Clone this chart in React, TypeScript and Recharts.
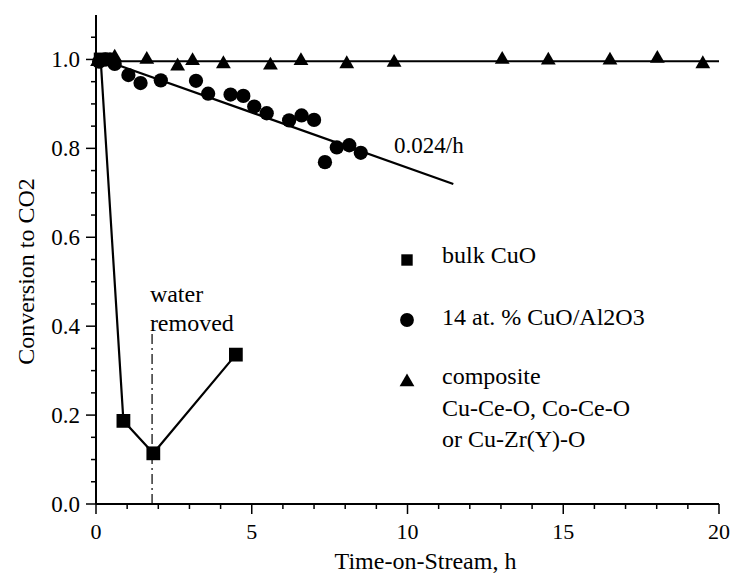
import { ComposedChart, Scatter, XAxis, YAxis, ReferenceLine, ReferenceDot, Label, Legend, Symbols } from 'recharts';

const FONT = "'Liberation Serif', 'DejaVu Serif', serif";
const INK = '#000';
const TXT = { fontFamily: FONT, fontSize: 23, fill: INK };

// bulk CuO (squares, connected)
const bulkTime = [0.15, 0.88, 1.84, 4.49];
const bulkConv = [1.0, 0.187, 0.114, 0.336];

// 14 at. % CuO/Al2O3 (circles)
const aluTime = [0.1, 0.3, 0.45, 0.6, 1.04, 1.43, 2.08, 3.21, 3.6, 4.32, 4.73, 5.08, 5.48, 6.2, 6.6, 7.0, 7.35, 7.73, 8.13, 8.5];
const aluConv = [0.995, 1.0, 1.0, 0.99, 0.965, 0.947, 0.953, 0.952, 0.923, 0.921, 0.918, 0.894, 0.879, 0.863, 0.874, 0.864, 0.769, 0.802, 0.807, 0.79];

// composite oxides (triangles)
const compTime = [0.05, 0.6, 1.63, 2.62, 3.1, 4.09, 5.6, 6.58, 8.05, 9.57, 13.04, 14.52, 16.5, 18.02, 19.48];
const compConv = [0.995, 1.005, 1.0, 0.985, 0.997, 0.99, 0.987, 0.997, 0.99, 0.993, 1.0, 0.998, 0.998, 1.002, 0.99];

// fitted lines
const aluFitTime = [0.4, 11.47];
const aluFitConv = [0.995, 0.72];
const compFitTime = [0, 20];
const compFitConv = [0.996, 0.996];

const waterRemovedTime = 1.8;

const xMajorTicks = [0, 5, 10, 15, 20];
const xMinorTicks = [0, 1, 2, 3, 4, 5, 6, 7, 8, 9, 10, 11, 12, 13, 14, 15, 16, 17, 18, 19, 20];
const yMajorTicks = [0, 0.2, 0.4, 0.6, 0.8, 1.0];
const yMinorTicks = [0, 0.05, 0.1, 0.15, 0.2, 0.25, 0.3, 0.35, 0.4, 0.45, 0.5, 0.55, 0.6, 0.65, 0.7, 0.75, 0.8, 0.85, 0.9, 0.95, 1.0, 1.05];

const legendLabels = [['bulk CuO'], ['14 at. % CuO/Al2O3'], ['composite', 'Cu-Ce-O, Co-Ce-O', 'or Cu-Zr(Y)-O']];

const toPoints = (ts: number[], vs: number[]) => ts.map((t, i) => ({ t, v: vs[i] }));

const bulkData = toPoints(bulkTime, bulkConv);
const aluData = toPoints(aluTime, aluConv);
const compData = toPoints(compTime, compConv);
const aluFit = toPoints(aluFitTime, aluFitConv);
const compFit = toPoints(compFitTime, compFitConv);

const isMajor = (list: number[], v: number) => list.some((m) => Math.abs(m - v) < 1e-6);

const XTick = (props: any) => {
    const { x, y, payload } = props;
    const major = isMajor(xMajorTicks, payload.value);
    return (
        <g>
            <line x1={x} y1={y} x2={x} y2={y + (major ? 10 : 5)} stroke={INK} strokeWidth={1.5} />
            {major && (
                <text x={x} y={y + 35} textAnchor="middle" style={{ ...TXT, fontSize: 22 }}>
                    {payload.value}
                </text>
            )}
        </g>
    );
};

const YTick = (props: any) => {
    const { x, y, payload } = props;
    const major = isMajor(yMajorTicks, payload.value);
    return (
        <g>
            <line x1={x} y1={y} x2={x - (major ? 10 : 5)} y2={y} stroke={INK} strokeWidth={1.5} />
            {major && (
                <text x={x - 16} y={y + 8} textAnchor="end" style={TXT}>
                    {payload.value.toFixed(1)}
                </text>
            )}
        </g>
    );
};

const noDot = () => <g />;
const marker = (type: any, size: number) => (p: any) => <Symbols cx={p.cx} cy={p.cy} type={type} size={size} fill={INK} />;

const textAt = (lines: string[], fontSize = 23, lineGap = 29) => (props: any) => {
    const { viewBox } = props;
    return (
        <text style={{ ...TXT, fontSize }}>
            {lines.map((s, i) => (
                <tspan key={s} x={viewBox.x} y={viewBox.y + i * lineGap}>{s}</tspan>
            ))}
        </text>
    );
};

const renderLegend = () => {
    const markerY = [20, 80, 142];
    const textY = [23, 85, 144];
    const shapes: any[] = ['square', 'circle', 'triangle'];
    const sizes = [130, 150, 95];
    return (
        <svg width={320} height={230} style={{ overflow: 'visible', display: 'block' }}>
            {legendLabels.map((lines, i) => (
                <g key={i}>
                    <Symbols cx={12} cy={markerY[i]} type={shapes[i]} size={sizes[i]} fill={INK} />
                    <text style={{ ...TXT, fontSize: 24 }}>
                        {lines.map((s, j) => (
                            <tspan key={s} x={47} y={textY[i] + j * 31.5}>{s}</tspan>
                        ))}
                    </text>
                </g>
            ))}
        </svg>
    );
};

const App = () => (
    <div style={{ position: 'absolute', left: 0, top: 0, fontFamily: FONT }}>
        <ComposedChart width={733} height={576} margin={{ top: 15, right: 14, bottom: 0, left: 0 }}>
            <XAxis
                dataKey="t"
                type="number"
                domain={[0, 20]}
                ticks={xMinorTicks}
                interval={0}
                tickSize={0}
                tickMargin={0}
                tickLine={false}
                tick={<XTick />}
                height={72}
                axisLine={{ stroke: INK, strokeWidth: 2 }}
            >
                <Label
                    content={(p: any) => (
                        <text x={p.viewBox.x + p.viewBox.width / 2 + 18} y={569} textAnchor="middle" style={{ ...TXT, fontSize: 24 }}>
                            Time-on-Stream, h
                        </text>
                    )}
                />
            </XAxis>
            <XAxis xAxisId="top" orientation="top" type="number" domain={[0, 20]} height={0} tick={false} tickLine={false} axisLine={{ stroke: INK, strokeWidth: 1.5 }} />
            <YAxis
                dataKey="v"
                type="number"
                domain={[0, 1.1]}
                ticks={yMinorTicks}
                interval={0}
                tickSize={0}
                tickMargin={0}
                tickLine={false}
                tick={<YTick />}
                width={96}
                axisLine={{ stroke: INK, strokeWidth: 2 }}
            >
                <Label
                    content={(p: any) => {
                        const cx = p.viewBox.x + 26;
                        const cy = p.viewBox.y + p.viewBox.height / 2 + 12;
                        return (
                            <text x={cx} y={cy} transform={`rotate(-90 ${cx} ${cy})`} textAnchor="middle" dominantBaseline="central" style={{ ...TXT, fontSize: 24 }}>
                                Conversion to CO2
                            </text>
                        );
                    }}
                />
            </YAxis>
            <YAxis yAxisId="right" orientation="right" type="number" domain={[0, 1.1]} width={0} tick={false} tickLine={false} axisLine={{ stroke: INK, strokeWidth: 1.5 }} />

            <ReferenceLine
                segment={[{ x: waterRemovedTime, y: 0 }, { x: waterRemovedTime, y: 0.39 }]}
                stroke={INK}
                strokeWidth={1.2}
                strokeDasharray="10 4 2 4"
            />
            <ReferenceDot x={1.73} y={0.454} r={0} stroke="none" label={{ content: textAt(['water', 'removed'], 24) }} />
            <ReferenceDot x={9.57} y={0.79} r={0} stroke="none" label={{ content: textAt(['0.024/h']) }} />

            <Scatter data={compFit} line={{ stroke: INK, strokeWidth: 2 }} shape={noDot} isAnimationActive={false} legendType="none" />
            <Scatter data={aluFit} line={{ stroke: INK, strokeWidth: 2.2 }} shape={noDot} isAnimationActive={false} legendType="none" />
            <Scatter data={bulkData} line={{ stroke: INK, strokeWidth: 2.2 }} shape={marker('square', 190)} isAnimationActive={false} />
            <Scatter data={aluData} shape={marker('circle', 160)} isAnimationActive={false} />
            <Scatter data={compData} shape={marker('triangle', 95)} isAnimationActive={false} />

            <Legend
                layout="vertical"
                align="center"
                verticalAlign="middle"
                wrapperStyle={{ left: 395, top: 240, width: 320, height: 230 }}
                content={renderLegend}
            />
        </ComposedChart>
    </div>
);

export default App;
